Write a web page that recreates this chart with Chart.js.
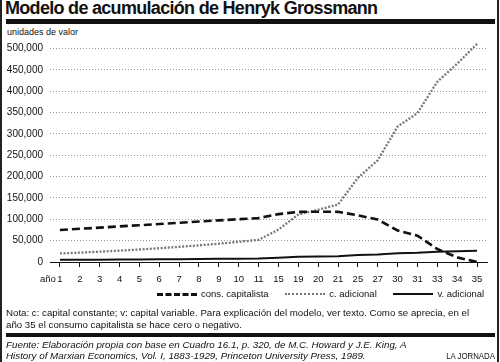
<!DOCTYPE html>
<html>
<head>
<meta charset="utf-8">
<script src="https://cdn.jsdelivr.net/npm/chart.js@4/dist/chart.umd.min.js"></script>
<style>
  body { margin: 0; background: #fff; font-family: "Liberation Sans", Arial, sans-serif; color: #111; }
  #wrap { position: relative; width: 500px; height: 362px; overflow: hidden; }
  .abs { position: absolute; white-space: nowrap; }
  #title { left: 5px; top: -1px; font-size: 18px; line-height: 18px; font-weight: bold; letter-spacing: -0.7px; }
  .bar { position: absolute; left: 6px; width: 489px; background: #111; }
  .frame { position: absolute; top: 0; width: 2px; height: 362px; background: #222; }
  #unit { left: 7px; top: 28.4px; font-size: 9px; line-height: 9px; }
  #ano { left: 40px; top: 273.5px; font-size: 9.5px; line-height: 9.5px; }
  #legend { left: 157px; top: 289px; font-size: 9.5px; line-height: 10px; }
  #legend span.s { display: inline-block; vertical-align: middle; width: 40px; height: 0; margin-right: 4px; }
  #legend span.t { display: inline-block; vertical-align: middle; margin-right: 14px; }
  #nota { left: 6px; top: 307.4px; font-size: 9.7px; line-height: 12px; }
  #fuente { left: 6px; top: 338.5px; font-size: 9.8px; line-height: 11px; font-style: italic; }
  #jornada { right: 5px; top: 349.5px; font-size: 9.8px; line-height: 11px; transform: scaleX(0.8); transform-origin: right center; }
  canvas { position: absolute; left: 0; top: 0; }
</style>
</head>
<body>
<div id="wrap">
  <div class="frame" style="left:0"></div>
  <div class="frame" style="left:497px"></div>
  <div id="title" class="abs">Modelo de acumulación de Henryk Grossmann</div>
  <div class="bar" style="top:19px;height:5px"></div>
  <div id="unit" class="abs">unidades de valor</div>
  <canvas id="chart" width="500" height="290"></canvas>
  <div id="ano" class="abs">año</div>
  <div id="legend" class="abs">
    <span class="s" style="border-top:3px dashed #111"></span><span class="t">cons. capitalista</span>
    <span class="s" style="border-top:2px dotted #777"></span><span class="t">c. adicional</span>
    <span class="s" style="border-top:2px solid #111"></span><span class="t" style="margin-right:0">v. adicional</span>
  </div>
  <div id="nota" class="abs">Nota: c: capital constante; v: capital variable. Para explicación del modelo, ver texto. Como se aprecia, en el<br>año 35 el consumo capitalista se hace cero o negativo.</div>
  <div class="bar" style="top:333px;height:4px"></div>
  <div id="fuente" class="abs">Fuente: Elaboración propia con base en Cuadro 16.1, p. 320, de M.C. Howard y J.E. King, A<br>History of Marxian Economics, Vol. I, 1883-1929, Princeton University Press, 1989.</div>
  <div id="jornada" class="abs">LA JORNADA</div>
</div>
<script>
// años del modelo (eje x)
const anos = ["1", "2", "3", "4", "5", "6", "7", "8", "9", "10", "11", "15", "19", "20", "21", "25", "27", "30", "31", "33", "34", "35"];

// consumo capitalista
const consCapitalista = [75000, 77750, 80540, 83350, 86190, 89040, 91880, 94700, 97490, 100220, 102870, 112140, 117430, 117740, 117510, 109390, 99430, 73780, 61600, 30400, 10800, 0];
// capital constante adicional
const cAdicional = [20000, 22000, 24200, 26620, 29280, 32210, 35430, 38970, 42870, 47160, 51870, 75950, 111200, 122320, 134550, 196990, 238360, 317260, 348980, 422270, 464500, 510950];
// capital variable adicional
const vAdicional = [5000, 5250, 5510, 5790, 6080, 6380, 6700, 7040, 7390, 7760, 8140, 9900, 12030, 12630, 13270, 16120, 17780, 20580, 21610, 23820, 25020, 26270];

// marcas del eje y
const yTicks = [0, 50000, 100000, 150000, 200000, 250000, 300000, 350000, 400000, 450000, 500000];

new Chart(document.getElementById("chart"), {
    type: "line",
    data: {
        labels: anos,
        datasets: [
            {
                label: "cons. capitalista",
                data: consCapitalista,
                borderColor: "#111",
                borderWidth: 2.6,
                borderDash: [8, 4]
            },
            {
                label: "c. adicional",
                data: cAdicional,
                borderColor: "#777",
                borderWidth: 2.3,
                borderDash: [2, 1.6]
            },
            {
                label: "v. adicional",
                data: vAdicional,
                borderColor: "#111",
                borderWidth: 2
            }
        ]
    },
    options: {
        responsive: false,
        animation: false,
        elements: { point: { radius: 0 }, line: { tension: 0, fill: false } },
        layout: { padding: { top: 40, left: 7, right: 13, bottom: 0 } },
        plugins: { legend: { display: false }, tooltip: { enabled: false } },
        scales: {
            x: {
                offset: true,
                afterFit: s => { s.height = 28; },
                grid: { drawOnChartArea: false, drawTicks: true, tickLength: 5, color: "#111", lineWidth: 1 },
                border: { display: true, color: "#111", width: 1 },
                ticks: {
                    color: "#111", padding: 3, maxRotation: 0, minRotation: 0, autoSkip: false,
                    font: { family: "Liberation Sans", size: 9.5, lineHeight: 2 }
                }
            },
            y: {
                min: 0,
                max: 520000,
                afterFit: s => { s.width = 43; },
                afterBuildTicks: s => { s.ticks = yTicks.map(v => ({ value: v })); },
                grid: { drawTicks: false, color: "#999", lineWidth: 1 },
                border: { display: false, dash: [1, 2] },
                ticks: {
                    padding: 7,
                    color: "#111",
                    font: { family: "Liberation Sans", size: 10 },
                    callback: v => v.toLocaleString("en-US")
                }
            }
        }
    }
});
</script>
</body>
</html>
